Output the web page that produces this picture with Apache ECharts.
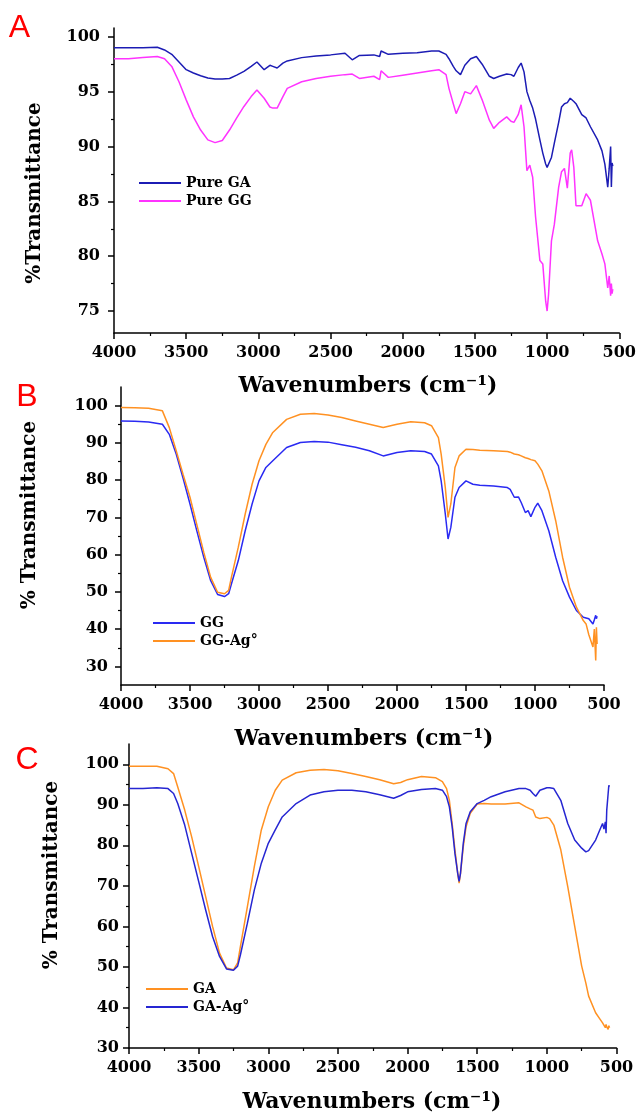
<!DOCTYPE html>
<html>
<head>
<meta charset="utf-8">
<script src="https://cdn.jsdelivr.net/npm/echarts@6/dist/echarts.min.js"></script>
<style>
  html, body { margin: 0; padding: 0; background: #fff; }
  #chart { width: 639px; height: 1114px; }
</style>
</head>
<body>
<div id="chart"></div>
<script>
// ---- panel A : Pure GA / Pure GG ----
const aWave = [4000,3900,3800,3700,3650,3600,3550,3500,3450,3400,3350,3300,3250,3200,3150,3100,3050,3010,2960,2920,2900,2870,2830,2800,2700,2600,2500,2400,2350,2300,2200,2160,2150,2100,2000,1900,1800,1750,1700,1680,1650,1630,1600,1570,1530,1490,1450,1400,1370,1330,1280,1250,1230,1200,1180,1160,1140,1120,1100,1080,1050,1030,1010,1000,990,970,950,920,900,880,860,840,830,815,800,760,730,700,650,620,600,580,570,560,555,550,545];
const aPureGA = [99.0,99.0,99.0,99.05,98.8,98.4,97.7,97.0,96.7,96.45,96.25,96.15,96.15,96.2,96.5,96.85,97.3,97.7,97.0,97.4,97.3,97.15,97.6,97.8,98.1,98.25,98.35,98.5,97.9,98.3,98.35,98.2,98.7,98.4,98.5,98.55,98.7,98.7,98.4,98.0,97.3,96.9,96.55,97.4,98.0,98.2,97.5,96.4,96.2,96.4,96.6,96.55,96.4,97.2,97.6,96.8,95.0,94.2,93.5,92.5,90.6,89.4,88.4,88.1,88.2,89.0,90.3,92.2,93.6,93.9,94.0,94.4,94.4,94.1,93.9,92.9,92.6,91.8,90.6,89.6,88.4,86.3,88.0,90.0,86.3,88.5,88.2];
const aPureGG = [98.0,98.0,98.1,98.2,98.0,97.3,95.9,94.25,92.7,91.5,90.6,90.35,90.55,91.5,92.6,93.65,94.55,95.15,94.4,93.6,93.5,93.5,94.55,95.3,95.9,96.2,96.4,96.55,96.6,96.2,96.4,96.1,96.9,96.3,96.5,96.7,96.9,97.0,96.55,95.3,93.9,93.0,93.9,95.0,94.8,95.55,94.25,92.4,91.65,92.2,92.7,92.3,92.2,92.9,93.8,91.8,87.8,88.3,87.2,83.6,79.6,79.3,75.9,75.0,76.5,81.4,82.9,86.3,87.7,88.0,86.2,89.4,89.7,88.1,84.6,84.6,85.7,85.1,81.4,80.2,79.3,77.1,78.2,76.4,77.5,76.6,77.0];

// ---- panel B : GG / GG-Ag ----
const bWave = [4000,3900,3800,3700,3650,3600,3550,3500,3450,3400,3350,3300,3250,3220,3200,3150,3100,3050,3000,2950,2900,2800,2700,2600,2500,2400,2300,2200,2100,2000,1900,1800,1750,1700,1680,1650,1630,1610,1580,1550,1500,1450,1400,1300,1200,1180,1150,1120,1100,1070,1050,1030,1000,980,950,900,850,800,750,700,650,630,610,600,580,570,560,555,550];
const bGG = [95.9,95.8,95.6,95.0,92.3,87.0,80.5,73.6,66.3,59.3,53.0,49.3,48.75,49.5,52.1,58.4,66.4,73.6,79.8,83.4,85.2,88.75,90.1,90.4,90.2,89.5,88.8,87.9,86.5,87.4,87.9,87.7,87.0,83.8,79.8,70.9,64.2,67.3,75.4,78.0,79.8,78.9,78.6,78.4,78.0,77.5,75.4,75.5,74.0,71.3,71.8,70.2,72.7,73.8,71.8,66.4,59.3,53.0,48.6,45.0,43.2,43.0,42.8,42.8,41.4,42.5,43.7,42.8,43.5];
const bGGAg = [99.5,99.4,99.3,98.6,94.1,87.9,81.5,75.4,68.0,60.6,53.9,49.9,49.5,50.4,53.9,62.0,70.9,78.9,85.2,89.6,92.8,96.3,97.7,97.9,97.5,96.8,95.9,95.0,94.1,95.0,95.7,95.4,94.6,91.4,87.0,78.0,70.0,73.6,83.4,86.5,88.3,88.2,88.0,87.9,87.7,87.5,87.0,86.8,86.5,86.0,85.8,85.5,85.2,84.3,82.5,77.1,69.1,59.3,51.25,45.9,42.3,41.4,38.5,38.75,35.2,40.0,31.6,40.5,36.0];

// ---- panel C : GA / GA-Ag ----
const cWave = [4000,3900,3800,3720,3680,3650,3600,3550,3500,3450,3400,3350,3300,3250,3220,3200,3150,3100,3050,3000,2950,2900,2800,2700,2600,2500,2400,2300,2200,2100,2050,2000,1900,1800,1750,1720,1700,1680,1660,1640,1630,1620,1600,1580,1550,1500,1450,1400,1300,1200,1150,1120,1100,1080,1050,1000,980,950,900,850,800,750,720,700,650,620,600,590,580,575,570,560,555,550];
const cGA = [99.5,99.5,99.5,98.9,97.7,94.4,88.7,82.1,74.8,67.4,60.0,53.4,49.75,49.3,51.0,55.1,64.9,74.8,83.8,89.5,93.6,96.1,97.9,98.5,98.7,98.4,97.7,97.0,96.2,95.2,95.5,96.2,97.0,96.7,95.7,94.0,91.1,85.4,78.9,73.1,70.7,73.1,79.7,84.6,87.9,90.2,90.3,90.2,90.2,90.5,89.5,89.0,88.7,87.0,86.6,86.9,86.6,85.0,78.9,69.8,60.0,50.2,46.0,42.8,38.7,37.2,36.2,35.8,35.0,35.8,35.2,34.6,35.5,35.0];
const cGAAg = [94.0,94.0,94.2,94.0,92.8,90.3,85.0,78.0,71.1,64.1,57.5,52.6,49.5,49.2,50.2,53.0,60.8,69.0,75.6,80.5,83.8,87.0,90.3,92.4,93.2,93.6,93.6,93.2,92.5,91.6,92.3,93.2,93.8,94.0,93.6,92.0,89.5,84.6,78.0,73.1,71.1,73.1,80.5,85.4,88.3,90.3,91.1,92.0,93.2,94.0,94.0,93.6,92.8,92.1,93.6,94.2,94.2,94.0,91.1,85.4,81.3,79.3,78.4,78.7,81.3,83.8,85.4,84.0,85.8,83.0,88.7,92.8,94.8,94.5];

// tick values
const aTicks = [75, 80, 85, 90, 95, 100];
const aMinor = [77.5, 82.5, 87.5, 92.5, 97.5];
const bcTicks = [30, 40, 50, 60, 70, 80, 90, 100];
const bcMinor = [35, 45, 55, 65, 75, 85, 95];

const zip = (xs, ys) => xs.map((x, i) => [x, ys[i]]);

const serif = '"DejaVu Serif", serif';
const black = '#000';

function xAxisFor(grid) {
  return {
    type: 'value', gridIndex: grid, min: 500, max: 4000, interval: 500, inverse: true,
    axisLine: { show: true, lineStyle: { color: black, width: 1.5 } },
    axisTick: { show: true, inside: false, length: 6, lineStyle: { color: black, width: 1.5 } },
    minorTick: { show: true, splitNumber: 2, length: 3, lineStyle: { color: black, width: 1.2 } },
    axisLabel: { color: black, fontFamily: serif, fontWeight: 'bold', fontSize: 16, margin: 12,
      formatter: v => String(v) },
    splitLine: { show: false },
  };
}

function yAxisFor(grid, min, max, ticks, margin) {
  return {
    type: 'value', gridIndex: grid, min: min, max: max, position: 'left',
    axisLine: { show: true, lineStyle: { color: black, width: 1.5 } },
    axisTick: { show: true, inside: false, length: 6, customValues: ticks, lineStyle: { color: black, width: 1.5 } },
    axisLabel: { color: black, fontFamily: serif, fontWeight: 'bold', fontSize: 16, margin: margin, customValues: ticks },
    splitLine: { show: false },
  };
}

function minorAxisFor(grid, min, max, ticks) {
  return {
    type: 'value', gridIndex: grid, min: min, max: max, position: 'left', offset: 0,
    axisLine: { show: false },
    axisTick: { show: true, inside: false, length: 3, customValues: ticks, lineStyle: { color: black, width: 1.2 } },
    axisLabel: { show: false, customValues: ticks },
    splitLine: { show: false },
  };
}

function line(name, data, color, xi, yi) {
  return {
    name: name, type: 'line', data: data, xAxisIndex: xi, yAxisIndex: yi,
    showSymbol: false, symbol: 'none', lineStyle: { color: color, width: 1.5 }, itemStyle: { color: color },
    animation: false,
  };
}

function legendFor(names, left, top) {
  return {
    data: names, orient: 'vertical', left: left, top: top, itemGap: 4,
    itemWidth: 42, itemHeight: 2, icon: 'rect',
    textStyle: { fontFamily: serif, fontWeight: 'bold', fontSize: 14, color: black },
  };
}

function text(str, x, y, font, fill, rotation) {
  return {
    type: 'text', x: x, y: y, rotation: rotation || 0,
    style: { text: str, fill: fill || black, font: font, textAlign: 'center', textVerticalAlign: 'middle' },
  };
}

const letterFont = '32px "Liberation Sans", sans-serif';
const xTitleFont = 'bold 22px ' + serif;
const yTitleFont = 'bold 20px ' + serif;

const chart = echarts.init(document.getElementById('chart'));
chart.setOption({
  backgroundColor: '#fff',
  animation: false,
  grid: [
    { left: 114, right: 17.5, top: 28, height: 305 },
    { left: 121, right: 35, top: 387, height: 298 },
    { left: 129, right: 22.5, top: 744, height: 304 },
  ],
  xAxis: [xAxisFor(0), xAxisFor(1), xAxisFor(2)],
  yAxis: [
    yAxisFor(0, 73, 100.8, aTicks, 14),
    minorAxisFor(0, 73, 100.8, aMinor),
    yAxisFor(1, 25, 105, bcTicks, 13),
    minorAxisFor(1, 25, 105, bcMinor),
    yAxisFor(2, 30, 105, bcTicks, 10),
    minorAxisFor(2, 30, 105, bcMinor),
  ],
  legend: [
    legendFor(['Pure GA', 'Pure GG'], 134, 171),
    legendFor(['GG', 'GG-Ag°'], 148, 611),
    legendFor(['GA', 'GA-Ag°'], 141, 977),
  ],
  series: [
    line('Pure GA', zip(aWave, aPureGA), '#1c1cb4', 0, 0),
    line('Pure GG', zip(aWave, aPureGG), '#ff33ff', 0, 0),
    line('GG', zip(bWave, bGG), '#2a2af2', 1, 2),
    line('GG-Ag°', zip(bWave, bGGAg), '#ff9122', 1, 2),
    line('GA', zip(cWave, cGA), '#ff9122', 2, 4),
    line('GA-Ag°', zip(cWave, cGAAg), '#2626d2', 2, 4),
  ],
  graphic: [
    text('A', 19.5, 28, letterFont, '#ff0000'),
    text('B', 27, 397, letterFont, '#ff0000'),
    text('C', 27, 760, letterFont, '#ff0000'),
    text('Wavenumbers (cm⁻¹)', 368, 386, xTitleFont),
    text('Wavenumbers (cm⁻¹)', 364, 739, xTitleFont),
    text('Wavenumbers (cm⁻¹)', 372, 1102, xTitleFont),
    text('%Transmittance', 35, 193, yTitleFont, black, Math.PI / 2),
    text('% Transmittance', 30, 515, yTitleFont, black, Math.PI / 2),
    text('% Transmittance', 52, 875, yTitleFont, black, Math.PI / 2),
  ],
});
</script>
</body>
</html>
